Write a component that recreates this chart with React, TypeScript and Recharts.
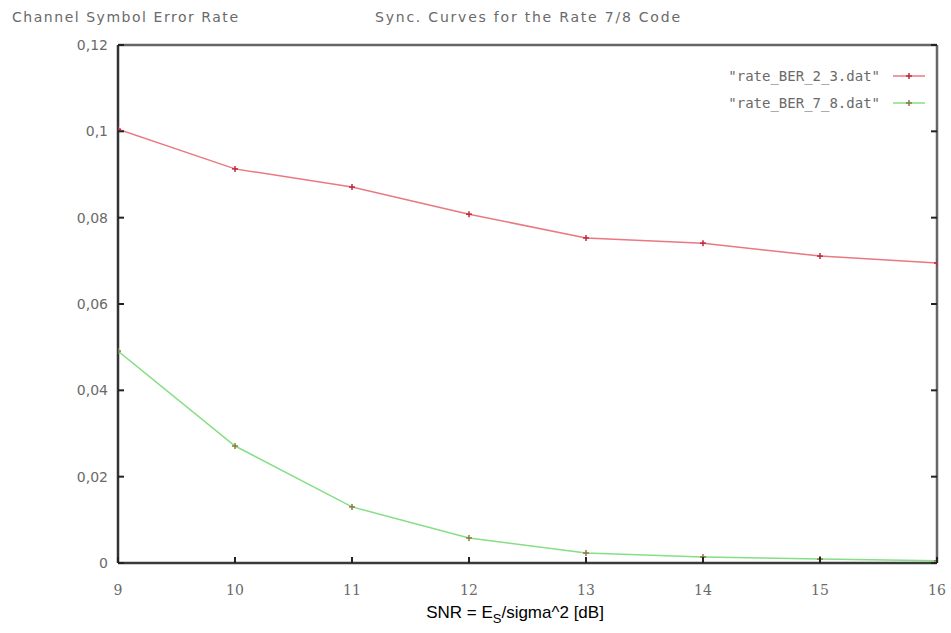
import React from 'react';
import { LineChart, Line, XAxis, YAxis, Legend } from 'recharts';

const snrValues = [9, 10, 11, 12, 13, 14, 15, 16];
const rateBER23 = [0.1005, 0.0913, 0.0871, 0.0808, 0.0753, 0.0741, 0.0711, 0.0695];
const rateBER78 = [0.0491, 0.0271, 0.013, 0.0058, 0.0023, 0.0014, 0.0009, 0.0005];
const yTicks = [0, 0.02, 0.04, 0.06, 0.08, 0.1, 0.12];
const yTickLabels = ['0', '0,02', '0,04', '0,06', '0,08', '0,1', '0,12'];
const seriesNames = ['"rate_BER_2_3.dat"', '"rate_BER_7_8.dat"'];
const titleLeft = 'Channel Symbol Error Rate';
const titleRight = 'Sync. Curves for the Rate 7/8 Code';

const data = snrValues.map((s, i) => ({ snr: s, r23: rateBER23[i], r78: rateBER78[i] }));

const RED = '#ea7882';
const RED_PT = '#c02a3c';
const GREEN = '#86de86';
const GREEN_PT = '#8a7a40';
const LABEL = '#6a6a6a';
const TINY = 0.0001;

const PlusDot = (color: string) => (props: any) => {
  const { cx, cy, index } = props;
  if (cx == null || cy == null) return <g key={index} />;
  return (
    <g key={index}>
      <line x1={cx - 3} y1={cy} x2={cx + 3} y2={cy} stroke={color} strokeWidth={1.5} />
      <line x1={cx} y1={cy - 3} x2={cx} y2={cy + 3} stroke={color} strokeWidth={1.5} />
    </g>
  );
};

const BottomTick = (props: any) => {
  const { x, y, payload } = props;
  return (
    <g>
      <line x1={x} y1={y} x2={x} y2={y - 6} stroke="#222" strokeWidth={2} />
      <text x={x} y={y + 32} textAnchor="middle" fill={LABEL} fontSize={14} fontFamily="DejaVu Serif">
        {payload.value}
      </text>
    </g>
  );
};

const TopTick = (props: any) => {
  const { x, y } = props;
  return <line x1={x} y1={y} x2={x} y2={y + 6} stroke="#222" strokeWidth={2} />;
};

const LeftTick = (props: any) => {
  const { x, y, payload } = props;
  const idx = yTicks.indexOf(payload.value);
  return (
    <g>
      <line x1={x} y1={y} x2={x + 6} y2={y} stroke="#222" strokeWidth={2} />
      <text x={x - 10} y={y + 5} textAnchor="end" fill={LABEL} fontSize={14} fontFamily="DejaVu Sans">
        {idx >= 0 ? yTickLabels[idx] : payload.value}
      </text>
    </g>
  );
};

const RightTick = (props: any) => {
  const { x, y } = props;
  return <line x1={x} y1={y} x2={x - 6} y2={y} stroke="#222" strokeWidth={2} />;
};

const LegendContent = () => {
  const colors = [
    [RED, RED_PT],
    [GREEN, GREEN_PT],
  ];
  return (
    <svg width={240} height={60} style={{ overflow: 'visible' }}>
      {seriesNames.map((n, i) => (
        <g key={n}>
          <text x={170} y={13 + i * 27} textAnchor="end" fill={LABEL} fontSize={14} fontFamily="DejaVu Sans Mono">
            {n}
          </text>
          <line x1={183} y1={8 + i * 27} x2={215} y2={8 + i * 27} stroke={colors[i][0]} strokeWidth={1.5} />
          <line x1={196} y1={8 + i * 27} x2={202} y2={8 + i * 27} stroke={colors[i][1]} strokeWidth={1.5} />
          <line x1={199} y1={5 + i * 27} x2={199} y2={11 + i * 27} stroke={colors[i][1]} strokeWidth={1.5} />
        </g>
      ))}
    </svg>
  );
};

const axisCommon = {
  allowDataOverflow: true,
  tickSize: TINY,
  tickMargin: TINY,
  tickLine: false,
  interval: 0 as const,
  strokeWidth: 2.5,
};

export default function App() {
  return (
    <div style={{ position: 'absolute', left: 0, top: 0, width: 951, height: 633, background: '#fff' }}>
      <LineChart
        width={951}
        height={633}
        data={data}
        margin={{ top: 44, right: 13, bottom: 69, left: 117 }}
      >
        <XAxis
          dataKey="snr"
          type="number"
          domain={[9, 16]}
          ticks={snrValues}
          height={1}
          stroke="#3a3a3a"
          axisLine={{ stroke: '#3a3a3a', strokeWidth: 2.5 }}
          tick={<BottomTick />}
          {...axisCommon}
        />
        <XAxis
          xAxisId="top"
          orientation="top"
          type="number"
          domain={[9, 16]}
          ticks={snrValues}
          height={1}
          stroke="#666"
          axisLine={{ stroke: '#666', strokeWidth: 2.5 }}
          tick={<TopTick />}
          {...axisCommon}
        />
        <YAxis
          type="number"
          domain={[0, 0.12]}
          ticks={yTicks}
          width={1}
          stroke="#333"
          axisLine={{ stroke: '#333', strokeWidth: 2.5 }}
          tick={<LeftTick />}
          {...axisCommon}
        />
        <YAxis
          yAxisId="right"
          orientation="right"
          type="number"
          domain={[0, 0.12]}
          ticks={yTicks}
          width={1}
          stroke="#666"
          axisLine={{ stroke: '#666', strokeWidth: 2.5 }}
          tick={<RightTick />}
          {...axisCommon}
        />
        <Legend
          layout="horizontal"
          verticalAlign="middle"
          align="center"
          content={<LegendContent />}
          wrapperStyle={{ position: 'absolute', left: 710, top: 68, width: 240 }}
        />
        <Line
          type="linear"
          dataKey="r23"
          name={seriesNames[0]}
          stroke={RED}
          strokeWidth={1.5}
          dot={PlusDot(RED_PT)}
          isAnimationActive={false}
        />
        <Line
          type="linear"
          dataKey="r78"
          name={seriesNames[1]}
          stroke={GREEN}
          strokeWidth={1.5}
          dot={PlusDot(GREEN_PT)}
          isAnimationActive={false}
        />
      </LineChart>
      <svg
        width={951}
        height={633}
        style={{ position: 'absolute', left: 0, top: 0, pointerEvents: 'none' }}
      >
        <text x={12} y={22} fill={LABEL} fontSize={14} fontFamily="DejaVu Sans" textLength={226} lengthAdjust="spacing">
          {titleLeft}
        </text>
        <text x={375} y={22} fill={LABEL} fontSize={14} fontFamily="DejaVu Sans" textLength={305} lengthAdjust="spacing">
          {titleRight}
        </text>
        <text x={515} y={618} textAnchor="middle" fill="#000" fontSize={17} fontFamily="Liberation Sans, Arial">
          SNR = E<tspan fontSize={13} dy={5}>S</tspan><tspan dy={-5}>/sigma^2 [dB]</tspan>
        </text>
      </svg>
    </div>
  );
}
